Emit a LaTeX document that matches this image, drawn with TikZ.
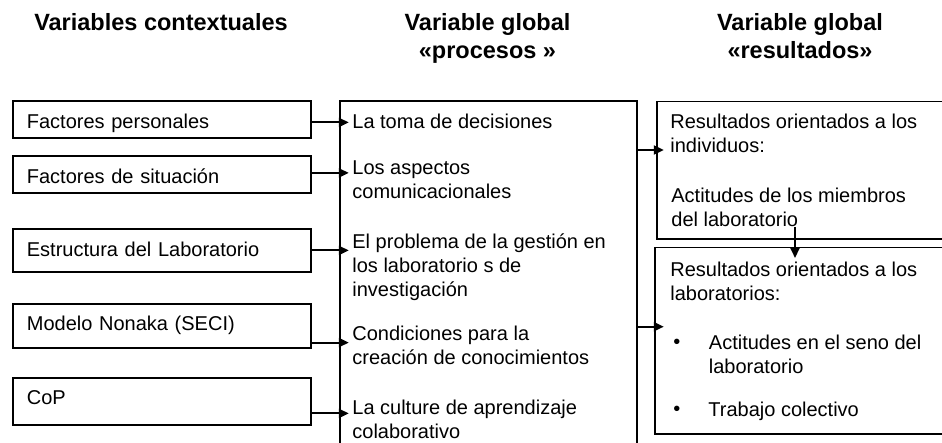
\documentclass[tikz,border=0pt]{standalone}
\usepackage{fontspec}
\setmainfont{Liberation Sans}
\usetikzlibrary{arrows.meta,positioning}

\begin{document}
\begin{tikzpicture}[x=1pt, y=-1pt, line width=1.8pt,
    head/.style={font=\fontsize{23.5}{28}\selectfont\bfseries, align=center, inner sep=0pt, anchor=north},
    body/.style={font=\fontsize{20}{24}\selectfont, align=left, inner sep=0pt, anchor=north west},
    ctxbox/.style={draw, anchor=north west, font=\fontsize{20}{24}\selectfont, text width=270pt,
        inner xsep=14pt, inner ysep=0pt, text height=28pt, align=left},
    frame/.style={draw, anchor=north west, inner sep=0pt},
    arr/.style={line width=2pt, -{Triangle[length=10pt,width=9pt]}}]
\useasboundingbox (0,0) rectangle (942,443);

\node[head] (hctx) at (161,13) {Variables contextuales};
\node[head] (hproc) at (487.5,13) {Variable global\\«procesos »};
\node[head] (hres) at (800,13) {Variable global\\«resultados»};

\node[ctxbox, text depth=9pt] (f1) at (12,100) {Factores personales};
\node[ctxbox, text depth=9pt] (f2) at (12,155) {Factores de situación};
\node[ctxbox, text depth=15pt] (f3) at (12,228) {Estructura del Laboratorio};
\node[ctxbox, text height=27pt, text depth=17pt] (f4) at (12,303) {Modelo Nonaka (SECI)};
\node[ctxbox, text height=27pt, text depth=20pt] (f5) at (12,377) {CoP};

\node[frame, minimum width=296.7pt, minimum height=360pt] (proc) at (339.3,100) {};
\node[body] (p1) at (351.5,113) {La toma de decisiones};
\node[body] (p2) at (351.5,159.5) {Los aspectos\\comunicacionales};
\node[body] (p3) at (351.5,233) {El problema de la gestión en\\los laboratorio s de\\investigación};
\node[body] (p4) at (351.5,325) {Condiciones para la\\creación de conocimientos};
\node[body] (p5) at (351.5,399) {La culture de aprendizaje\\colaborativo};

\node[frame, minimum width=320pt, minimum height=137.6pt] (resA) at (656,100.7) {};
\node[frame, minimum width=320pt, minimum height=186.6pt] (resB) at (654,246.7) {};
\node[body] (tA1) at (669.5,113.3) {Resultados orientados a los\\individuos:};
\node[body] (tA2) at (670.5,187) {Actitudes de los miembros\\del laboratorio};
\node[body] (tB1) at (669.5,261) {Resultados orientados a los\\laboratorios:};
\node[body] (tB2) at (708,334) {Actitudes en el seno del\\laboratorio};
\node[body] (tB3) at (707.5,401) {Trabajo colectivo};
\node[body, anchor=base west] (b1) at (672.5,348.3) {•};
\node[body, anchor=base west] (b2) at (672.5,415.3) {•};

\draw[arr] ([yshift=-3pt]f1.east) -- ++(37,0);
\draw[arr] ([yshift=1.5pt]f2.east) -- ++(37,0);
\draw[arr] (f3.east) -- ++(37,0);
\draw[arr] ([yshift=-16.7pt]f4.east) -- ++(37,0);
\draw[arr] ([yshift=-12pt]f5.east) -- ++(37,0);

\draw[arr] ([yshift=-50pt]proc.north east) -- ++(26,0);
\draw[arr] ([yshift=-226.7pt]proc.north east) -- ++(26,0);

\coordinate (drop) at (795,227);
\draw[arr] (drop) -- ++(0,31);
\end{tikzpicture}
\end{document}
